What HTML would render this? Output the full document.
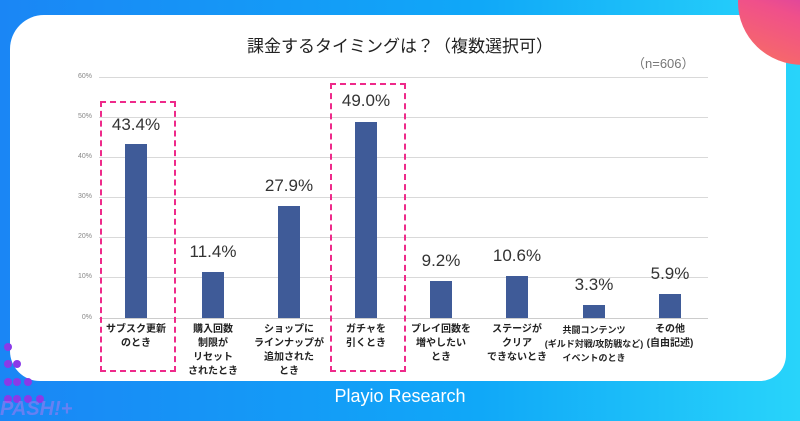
<!DOCTYPE html>
<html><head><meta charset="utf-8"><style>
*{margin:0;padding:0;box-sizing:border-box}
body{width:800px;height:419px;overflow:hidden;position:relative;background:linear-gradient(90deg,#1a86f5 0%,#10a8f8 60%,#28d4fa 100%);font-family:"Liberation Sans","Noto Sans CJK JP",sans-serif}
.card{position:absolute;left:10px;top:15px;width:776px;height:366px;background:#fff;border-radius:34px 22px 26px 30px}
.blob{position:absolute;left:738px;top:-60px;width:130px;height:125px;border-radius:50%;background:linear-gradient(200deg,#a020e0,#f0508a 60%,#f87060)}
.t{position:absolute;white-space:nowrap}
.grid{position:absolute;left:99px;width:609px;height:1px;background:#d9d9d9}
.yl{position:absolute;left:60px;width:32px;text-align:right;font-size:7px;color:#888}
.bar{position:absolute;width:22px;background:#3f5b98}
.val{position:absolute;width:80px;text-align:center;font-size:17px;color:#333}
.cat{position:absolute;top:323px;width:100px;text-align:center;font-size:10px;font-weight:bold;line-height:14px;color:#222}
.box{position:absolute;border:2px dashed #ee2a8a}
.dot{position:absolute;width:8px;height:8px;border-radius:50%;background:#8a3ae8}
</style></head><body>
<div class="card"></div>
<div class="blob"></div>
<div class="t" style="left:0;width:800px;text-align:center;top:32px;font-size:17px;color:#222">課金するタイミングは？（複数選択可）</div>
<div class="t" style="left:632px;top:53px;font-size:13px;color:#777">（n=606）</div>

<div class="grid" style="top:77px"></div><div class="yl" style="top:73px">60%</div>
<div class="grid" style="top:117px"></div><div class="yl" style="top:113px">50%</div>
<div class="grid" style="top:157px"></div><div class="yl" style="top:153px">40%</div>
<div class="grid" style="top:197px"></div><div class="yl" style="top:193px">30%</div>
<div class="grid" style="top:237px"></div><div class="yl" style="top:233px">20%</div>
<div class="grid" style="top:277px"></div><div class="yl" style="top:273px">10%</div>
<div class="grid" style="top:318px;background:#ccc"></div><div class="yl" style="top:314px">0%</div>

<div class="box" style="left:100px;top:101px;width:76px;height:271px"></div>
<div class="box" style="left:330px;top:83px;width:76px;height:289px"></div>

<div class="bar" style="left:125px;top:144px;height:174px"></div><div class="val" style="left:96px;top:115px">43.4%</div>
<div class="bar" style="left:202px;top:272px;height:46px"></div><div class="val" style="left:173px;top:242px">11.4%</div>
<div class="bar" style="left:278px;top:206px;height:112px"></div><div class="val" style="left:249px;top:176px">27.9%</div>
<div class="bar" style="left:355px;top:122px;height:196px"></div><div class="val" style="left:326px;top:91px">49.0%</div>
<div class="bar" style="left:430px;top:281px;height:37px"></div><div class="val" style="left:401px;top:251px">9.2%</div>
<div class="bar" style="left:506px;top:276px;height:42px"></div><div class="val" style="left:477px;top:246px">10.6%</div>
<div class="bar" style="left:583px;top:305px;height:13px"></div><div class="val" style="left:554px;top:275px">3.3%</div>
<div class="bar" style="left:659px;top:294px;height:24px"></div><div class="val" style="left:630px;top:264px">5.9%</div>

<div class="cat" style="left:86px">サブスク更新<br>のとき</div>
<div class="cat" style="left:163px">購入回数<br>制限が<br>リセット<br>されたとき</div>
<div class="cat" style="left:239px">ショップに<br>ラインナップが<br>追加された<br>とき</div>
<div class="cat" style="left:316px">ガチャを<br>引くとき</div>
<div class="cat" style="left:391px">プレイ回数を<br>増やしたい<br>とき</div>
<div class="cat" style="left:467px">ステージが<br>クリア<br>できないとき</div>
<div class="cat" style="left:544px;font-size:9px">共闘コンテンツ<br>(ギルド対戦/攻防戦など)<br>イベントのとき</div>
<div class="cat" style="left:620px">その他<br>(自由記述)</div>

<div class="t" style="left:0;width:800px;text-align:center;top:386px;font-size:18px;color:#fff">Playio Research</div>

<div class="dot" style="left:4px;top:343px"></div>
<div class="dot" style="left:4px;top:360px"></div><div class="dot" style="left:13px;top:360px"></div>
<div class="dot" style="left:4px;top:378px"></div><div class="dot" style="left:13px;top:378px"></div><div class="dot" style="left:24px;top:378px"></div>
<div class="dot" style="left:4px;top:395px"></div><div class="dot" style="left:13px;top:395px"></div><div class="dot" style="left:24px;top:395px"></div><div class="dot" style="left:36px;top:395px"></div>
<div class="t" style="left:0;top:398px;font-size:20px;font-weight:bold;font-style:italic;color:rgba(180,120,240,0.5)">PASH!+</div>
</body></html>
